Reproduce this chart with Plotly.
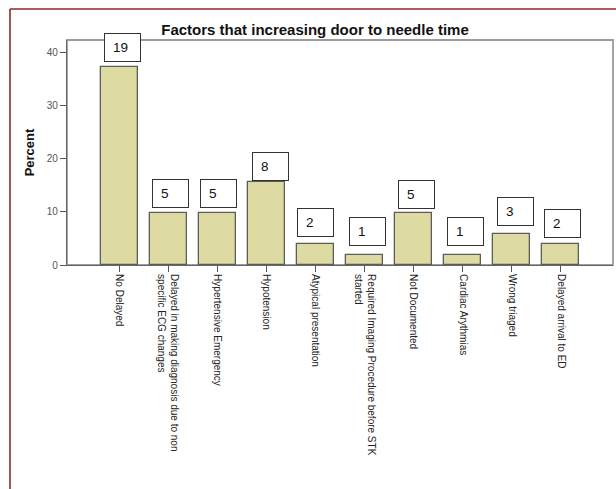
import plotly.graph_objects as go

categories = [
    "No Delayed",
    "Delayed in making diagnosis due to non<br>specific ECG changes",
    "Hypertensive Emergency",
    "Hypotension",
    "Atypical presentation",
    "Required Imaging Procedure before STK<br>started",
    "Not Documented",
    "Cardiac Arythmias",
    "Wrong triaged",
    "Delayed arrival to ED",
]
counts = [19, 5, 5, 8, 2, 1, 5, 1, 3, 2]
total = sum(counts)
percents = [c / total * 100 for c in counts]

# label box offsets (pixels) relative to bar top / bar centre
label_gap = [5, 5, 5, 1, 7, 9, 4, 9, 8, 6]
label_dx = [3, 2, 1, 4, 0, 3, 3, 3, 4, 2]

W, H = 616, 489
L, R, T, B = 67, 3, 40, 224
pw, ph = W - L - R, H - T - B

fig = go.Figure()
fig.add_trace(go.Bar(
    x=list(range(len(categories))),
    y=percents,
    width=0.755,
    marker=dict(color="#DDDBA1", line=dict(color="#5c5c5c", width=1.3)),
    hoverinfo="skip",
))

BOX_W, BOX_H = 35, 27
for i, (c, p) in enumerate(zip(counts, percents)):
    # box
    fig.add_annotation(
        x=i, y=p, xref="x", yref="y", text=" ", showarrow=False,
        xanchor="center", yanchor="bottom",
        xshift=label_dx[i], yshift=label_gap[i],
        width=BOX_W, height=BOX_H, borderpad=0,
        bordercolor="#333333", borderwidth=1, bgcolor="white",
        font=dict(size=1),
    )
    # number
    fig.add_annotation(
        x=i, y=p, xref="x", yref="y", text=str(c), showarrow=False,
        xanchor="left", yanchor="middle",
        xshift=label_dx[i] - BOX_W / 2 + 6,
        yshift=label_gap[i] + BOX_H / 2 + 1,
        font=dict(family="Liberation Sans, Arial", size=13.5, color="#111111"),
    )

# plot frame (grey box)
fig.add_shape(type="rect", xref="paper", yref="paper", x0=0, y0=0, x1=1, y1=1,
              line=dict(color="#9c9c9c", width=1.8), layer="below")
# outer dark-red page border
top_y = (ph + T - 9) / ph
fig.add_shape(type="line", xref="paper", yref="paper",
              x0=(10 - L) / pw, x1=(10 - L) / pw, y0=-1.2, y1=top_y,
              line=dict(color="#8B2A2A", width=1.6))
fig.add_shape(type="line", xref="paper", yref="paper",
              x0=(10 - L) / pw, x1=(W + 20 - L) / pw, y0=top_y, y1=top_y,
              line=dict(color="#8B2A2A", width=1.6))

fig.update_layout(
    width=W, height=H,
    margin=dict(l=L, r=R, t=T, b=B, pad=0),
    paper_bgcolor="white", plot_bgcolor="white",
    showlegend=False,
    bargap=0,
    title=dict(
        text="Factors that increasing door to needle time",
        x=315 / W, xref="container", xanchor="center",
        y=1 - 30 / H, yref="container", yanchor="middle",
        font=dict(family="Liberation Sans, Arial", size=15, color="#111111", weight="bold"),
    ),
    xaxis=dict(
        tickmode="array",
        tickvals=list(range(len(categories))),
        ticktext=categories,
        tickangle=90,
        range=[-1.06, len(categories) - 1 + 1.06],
        showline=True, linecolor="#666666", linewidth=1.2,
        ticks="outside", ticklen=6, tickcolor="#555555", tickwidth=1,
        tickfont=dict(family="Liberation Sans, Arial", size=10, color="#222222"),
        showgrid=False, zeroline=False,
    ),
    yaxis=dict(
        range=[0, 42.4],
        tickvals=[0, 10, 20, 30, 40],
        showline=True, linecolor="#666666", linewidth=1.2,
        ticks="outside", ticklen=6, tickcolor="#555555", tickwidth=1,
        tickfont=dict(family="Liberation Sans, Arial", size=10, color="#555555"),
        showgrid=False, zeroline=False,
        title=dict(text="Percent", standoff=9,
                   font=dict(family="Liberation Sans, Arial", size=13, color="#111111", weight="bold")),
    ),
)

fig.write_html("out.html")
